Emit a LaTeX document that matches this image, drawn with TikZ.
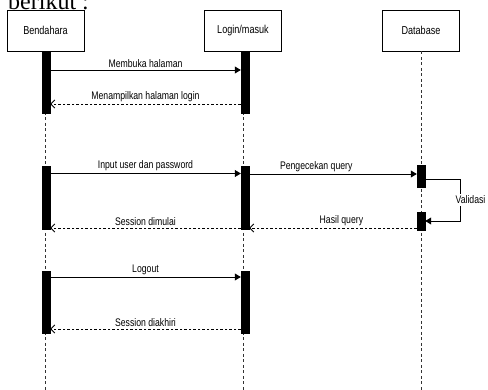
\documentclass[tikz,border=0pt]{standalone}
\usepackage{fontspec}
\setmainfont[FakeStretch=0.79]{Liberation Sans}
\newfontfamily\bodyserif{Liberation Serif}
\usetikzlibrary{arrows.meta}

\begin{document}
\begin{tikzpicture}[x=1pt, y=-1pt, font=\fontsize{11}{13}\selectfont,
		actor/.style={draw=black, line width=0.8pt, minimum width=77pt, minimum height=41pt, fill=white, font=\fontsize{11.5}{13}\selectfont},
		life/.style={draw=black!80, line width=0.6pt, dash pattern=on 3pt off 2.5pt},
		bar/.style={draw=black, fill=black, inner sep=0pt, minimum width=8pt, minimum height=#1},
		call/.style={draw=black, line width=0.8pt, -{Triangle[length=6pt, width=7pt]}},
		reply/.style={draw=black, line width=0.8pt, dash pattern=on 2.5pt off 2pt, -{Straight Barb[length=4pt, width=8pt]}},
		msg/.style={above, inner sep=2pt}]
			\useasboundingbox (0,0) rectangle (488,390);
			\clip (0,0) rectangle (488,390);
			\node[anchor=base west, inner sep=0pt, font=\bodyserif\fontsize{24}{26}\selectfont] (intro) at (8,10){berikut :};
			
			\node[actor] (bend) at (45.5,30.5){Bendahara};
			\node[actor] (login) at (243,30.5){Login/masuk};
			\node[actor] (db) at (421,30.5){Database};
			
			\path[life] (bend) -- (bend |- 0,390);
			\path[life] (login) -- (login |- 0,390);
			\path[life] (db) -- (db |- 0,390);
			
			\node[bar=62pt] (b1) at (46,82){};
			\node[bar=62pt] (l1) at (245,82){};
			\node[bar=63pt] (b2) at (46,197.5){};
			\node[bar=63pt] (l2) at (245,197.5){};
			\node[bar=22pt] (d1) at (421,176){};
			\node[bar=18pt] (d2) at (421,221){};
			\node[bar=62pt] (b3) at (46,302){};
			\node[bar=62pt] (l3) at (245,302){};
			
			\path[call] (b1.east |- 0,70) -- node[msg]{Membuka halaman} (l1.west |- 0,70);
			\path[reply] (l1.west |- 0,104) -- node[msg]{Menampilkan halaman login} (b1.east |- 0,104);
			
			\path[call] (b2.east |- 0,173.5) -- node[msg]{Input user dan password} (l2.west |- 0,173.5);
			\path[call] (l2.east |- 0,174) -- node[msg, pos=0.4]{Pengecekan query} (d1.west |- 0,174);
			\path[call] (d1.east |- 0,179) -- (460,179) -- node[fill=white, inner sep=1.5pt, xshift=10.5pt]{Validasi} (460,221) -- (d2.east |- 0,221);
			\path[reply] (d2.west |- 0,228) -- node[msg, pos=0.45]{Hasil query} (l2.east |- 0,228);
			\path[reply] (l2.west |- 0,228) -- node[msg]{Session dimulai} (b2.east |- 0,228);
			
			\path[call] (b3.east |- 0,277) -- node[msg]{Logout} (l3.west |- 0,277);
			\path[reply] (l3.west |- 0,329) -- node[msg]{Session diakhiri} (b3.east |- 0,329);
			\end{tikzpicture}
\end{document}
